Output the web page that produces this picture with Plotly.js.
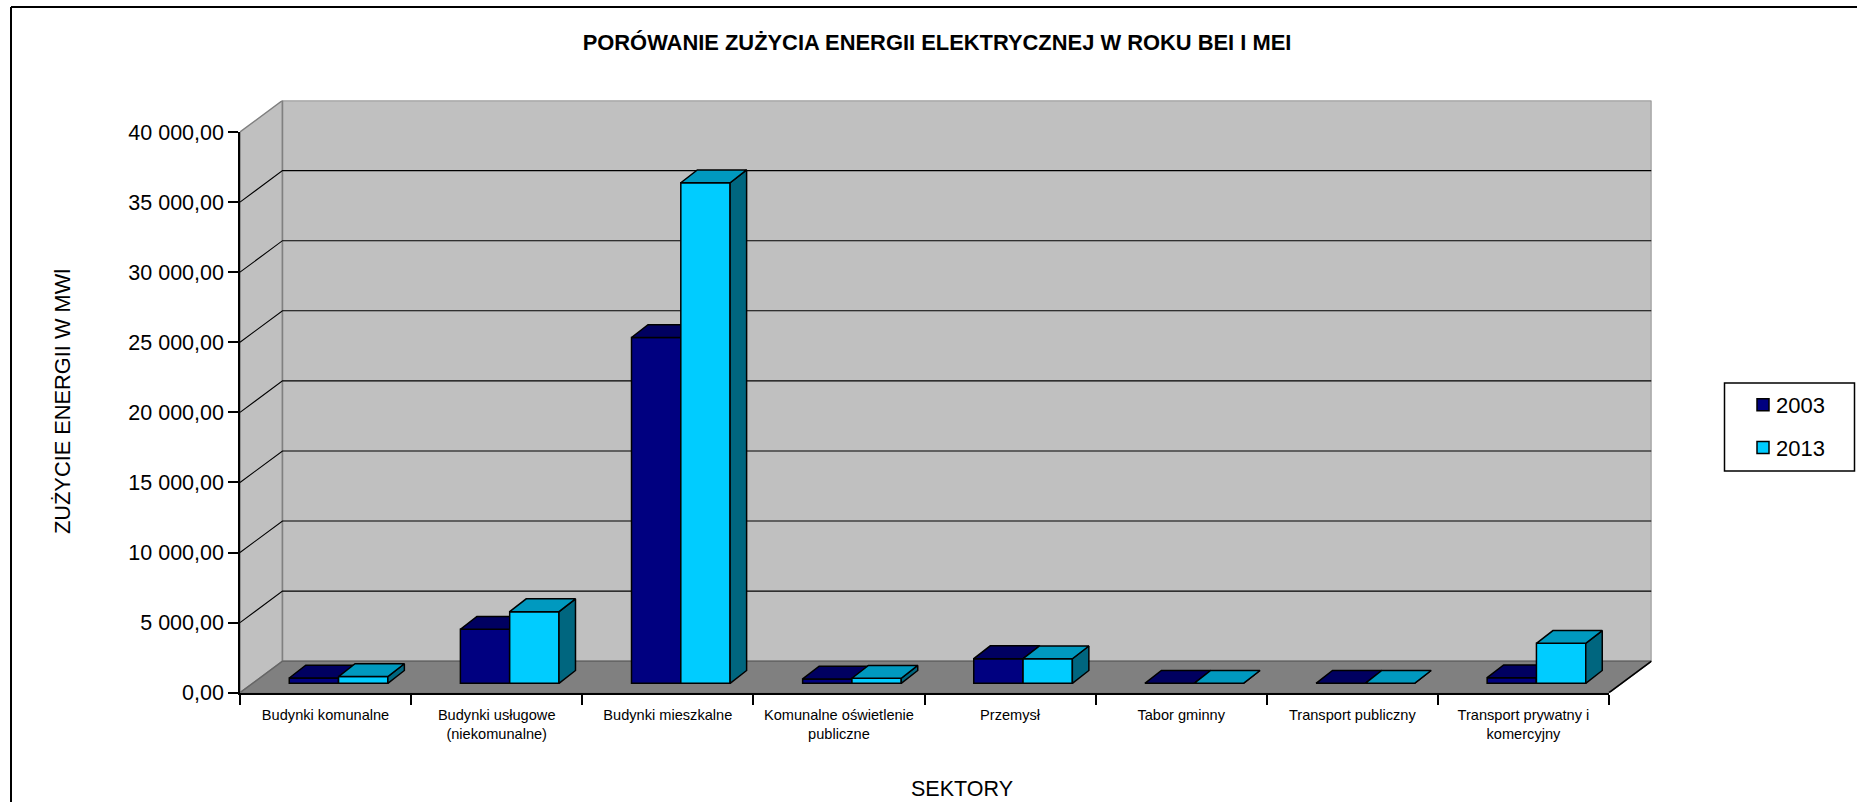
<!DOCTYPE html>
<html>
<head>
<meta charset="utf-8">
<script src="https://cdn.plot.ly/plotly-3.0.1.min.js"></script>
<style>html,body{margin:0;padding:0;background:#fff}#chart{width:1857px;height:802px}</style>
</head>
<body>
<div id="chart"></div>
<script>
const categories = ['Budynki komunalne','Budynki usługowe<br>(niekomunalne)','Budynki mieszkalne','Komunalne oświetlenie<br>publiczne','Przemysł','Tabor gminny','Transport publiczny','Transport prywatny i<br>komercyjny'];
const values2003 = [380, 3850, 24670, 310, 1760, 0, 0, 400];
const values2013 = [480, 5110, 35710, 360, 1750, 0, 0, 2850];
const seriesNames = ['2003', '2013'];
const yTicks = [0, 5000, 10000, 15000, 20000, 25000, 30000, 35000, 40000];

const W = 1857, H = 802;
const frontL = 240, frontR = 1609, frontTop = 132, frontBot = 692.7;
const depthPx = 42.5, risePx = 31.5;
const pxCat = (frontR - frontL) / categories.length;
const yMax = yTicks[yTicks.length - 1];
const pxVal = (frontBot - frontTop) / yMax;
const dC = depthPx / pxCat, dV = risePx / pxVal;
const xL = -0.5, xR = categories.length - 0.5;
const bw = 49.3 / pxCat, shiftC = 13 / pxCat, baseV = 9.4 / pxVal;
const barDC = 16.5 / pxCat, barDV = 12.8 / pxVal;

const domX = (a, b) => [a / W, b / W];
const domY = (top, bot) => [1 - bot / H, 1 - top / H];
const drawAxis = () => ({domain: domX(frontL, frontR + depthPx), range: [xL, xR + dC], type: 'linear', visible: false, fixedrange: true});
const drawYAxis = (x) => ({domain: domY(frontTop - risePx, frontBot), range: [0, yMax + dV], type: 'linear', visible: false, fixedrange: true, anchor: x});

function poly(xs, ys, fill, line, lw) {
  return {type: 'scatter', mode: 'lines', x: xs, y: ys, xaxis: 'x', yaxis: 'y', fill: 'toself', fillcolor: fill,
    line: {color: line, width: lw}, showlegend: false, hoverinfo: 'skip', cliponaxis: false};
}
function lines(xs, ys, color, lw) {
  return {type: 'scatter', mode: 'lines', x: xs, y: ys, xaxis: 'x', yaxis: 'y',
    line: {color: color, width: lw}, showlegend: false, hoverinfo: 'skip', cliponaxis: false, connectgaps: false};
}

const traces = [];
// walls and floor
traces.push(poly([xL, xL + dC, xL + dC, xL, xL], [0, dV, yMax + dV, yMax, 0], '#c0c0c0', '#808080', 1.5));
traces.push(poly([xL + dC, xR + dC, xR + dC, xL + dC, xL + dC], [dV, dV, yMax + dV, yMax + dV, dV], '#c0c0c0', '#808080', 1.5));
traces.push(poly([xL, xR, xR + dC, xL + dC, xL], [0, 0, dV, dV, 0], '#808080', '#666666', 1.5));
traces.push(lines([xR, xR + dC], [0, dV], '#000000', 1.5));
// gridlines
const gx = [], gy = [];
yTicks.filter(v => v > 0 && v < yMax).forEach(v => {
  gx.push(xL, xL + dC, xR + dC, null);
  gy.push(v, v + dV, v + dV, null);
});
traces.push(lines(gx, gy, '#000000', 1.1));

// bars, each series on its own subplot so the later series paints over the earlier
const styles = [
  {front: '#000080', top: '#000060', side: '#000040', off: -bw / 2, vals: values2003, xa: 'x2', ya: 'y2'},
  {front: '#00ccff', top: '#0099bf', side: '#00667f', off: bw / 2, vals: values2013, xa: 'x3', ya: 'y3'}
];
styles.forEach((s, k) => {
  const centers = s.vals.map((_, i) => i + shiftC + s.off);
  traces.push({type: 'bar', name: seriesNames[k], x: centers, y: s.vals, base: s.vals.map(() => baseV), width: bw,
    xaxis: s.xa, yaxis: s.ya, legendgroup: seriesNames[k], hoverinfo: 'skip',
    marker: {color: s.front, line: {color: '#000000', width: 1.5}}});
  const tx = [], ty = [], sx = [], sy = [];
  s.vals.forEach((v, i) => {
    const l = centers[i] - bw / 2, r = centers[i] + bw / 2, b = baseV, t = baseV + v;
    tx.push(l, r, r + barDC, l + barDC, l, null);
    ty.push(t, t, t + barDV, t + barDV, t, null);
    sx.push(r, r + barDC, r + barDC, r, r, null);
    sy.push(b, b + barDV, t + barDV, t, b, null);
  });
  const side = poly(sx, sy, s.side, '#000000', 1.5); side.xaxis = s.xa; side.yaxis = s.ya;
  const top = poly(tx, ty, s.top, '#000000', 1.5); top.xaxis = s.xa; top.yaxis = s.ya;
  traces.push(side, top);
});

// carrier for the visible category / value axes
traces.push({type: 'scatter', mode: 'none', x: categories, y: categories.map(() => 0), xaxis: 'x4', yaxis: 'y4', showlegend: false, hoverinfo: 'skip'});

const layout = {
  width: W, height: H, margin: {l: 0, r: 0, t: 0, b: 0, pad: 0},
  paper_bgcolor: '#ffffff', plot_bgcolor: 'rgba(0,0,0,0)',
  font: {family: '"Liberation Sans", Arial, sans-serif', color: '#000000'},
  separators: ', ', barmode: 'overlay',
  title: {text: 'PORÓWANIE ZUŻYCIA ENERGII ELEKTRYCZNEJ W ROKU BEI I MEI', x: 937 / W, xanchor: 'center', y: 1 - 42 / H, yanchor: 'middle',
    xref: 'paper', yref: 'paper', font: {size: 21.9, weight: 'bold', color: '#000000'}},
  xaxis: drawAxis(), yaxis: drawYAxis('x'),
  xaxis2: {...drawAxis(), anchor: 'y2'}, yaxis2: drawYAxis('x2'),
  xaxis3: {...drawAxis(), anchor: 'y3'}, yaxis3: drawYAxis('x3'),
  xaxis4: {domain: domX(frontL, frontR), anchor: 'y4', type: 'category', categoryorder: 'array', categoryarray: categories,
    range: [xL, xR], tickson: 'boundaries', ticks: 'outside', ticklen: 10, tickwidth: 1.5, tickcolor: '#000000',
    showline: true, linecolor: '#000000', linewidth: 2, showgrid: false, zeroline: false, fixedrange: true,
    tickfont: {size: 14.6, color: '#000000'}, tickangle: 0, ticklabelstandoff: 8},
  yaxis4: {domain: domY(frontTop, frontBot), anchor: 'x4', range: [0, yMax], tickvals: yTicks, tickformat: ',.2f',
    ticks: 'outside', ticklen: 10, tickwidth: 1.5, tickcolor: '#000000', showline: true, linecolor: '#000000', linewidth: 1.5,
    showgrid: false, zeroline: false, fixedrange: true, tickfont: {size: 21.5, color: '#000000'}},
  annotations: [
    {text: 'SEKTORY', xref: 'paper', yref: 'paper', x: 961.5 / W, y: 1 - 788.5 / H, xanchor: 'center', yanchor: 'middle', showarrow: false,
      font: {size: 21.5, color: '#000000'}},
    {text: 'ZUŻYCIE ENERGII W MWl', xref: 'paper', yref: 'paper', x: 62 / W, y: 1 - 402 / H, xanchor: 'center', yanchor: 'middle', showarrow: false,
      textangle: -90, font: {size: 21.8, color: '#000000'}}
  ],
  legend: {x: 1743 / W, xanchor: 'left', y: 1 - 384 / H, yanchor: 'top', bgcolor: 'rgba(0,0,0,0)', borderwidth: 0,
    font: {size: 22, color: '#000000'}, tracegroupgap: 11, traceorder: 'grouped', itemclick: false, itemdoubleclick: false},
  shapes: [
    {type: 'rect', xref: 'paper', yref: 'paper', x0: 1724.5 / W, x1: 1854.5 / W, y0: 1 - 471 / H, y1: 1 - 383 / H,
      line: {color: '#000000', width: 1.5}, fillcolor: 'rgba(0,0,0,0)', layer: 'below'},
    {type: 'line', xref: 'paper', yref: 'paper', x0: 11 / W, x1: 1, y0: 1 - 7 / H, y1: 1 - 7 / H, line: {color: '#000000', width: 2}},
    {type: 'line', xref: 'paper', yref: 'paper', x0: 11 / W, x1: 11 / W, y0: 0, y1: 1 - 7 / H, line: {color: '#000000', width: 2}}
  ]
};
Plotly.newPlot('chart', traces, layout, {displayModeBar: false, responsive: false}).then(gd => {
  gd.querySelectorAll('.legend .legendtext').forEach(t => t.setAttribute('x', parseFloat(t.getAttribute('x')) - 7));
});
</script>
</body>
</html>
